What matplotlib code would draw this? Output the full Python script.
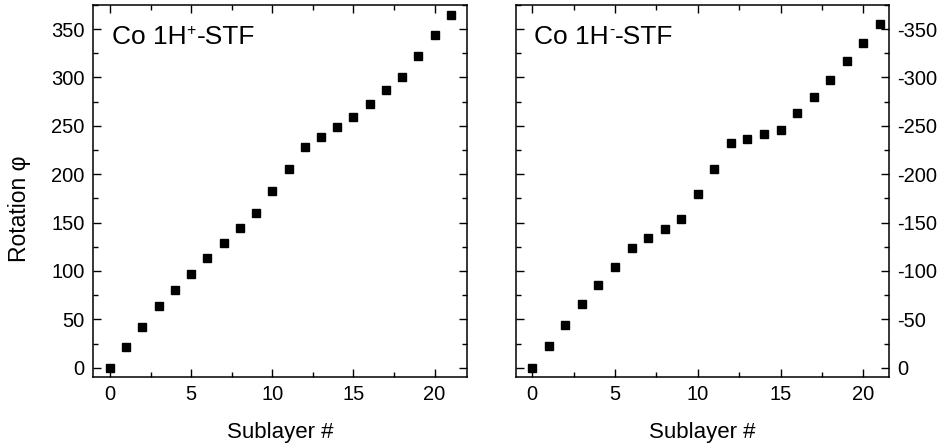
import matplotlib
matplotlib.use("Agg")
import matplotlib.pyplot as plt
from matplotlib.ticker import MultipleLocator, FuncFormatter

plt.rcParams['font.family'] = ['Liberation Sans', 'DejaVu Sans']
plt.rcParams['axes.unicode_minus'] = False

sublayer = list(range(22))
rot_plus = [0, 21, 42.4, 63.7, 80.3, 97.1, 113.7, 129.2, 144.7, 160.2, 182.9,
            205, 228, 238.4, 248.7, 259, 272.8, 286.6, 300.7, 322, 343.8, 365]
rot_minus = [0, -22.3, -44, -66, -85.2, -104.1, -123.4, -133.7, -143.3, -153.7, -179.8,
             -205.9, -232, -236.9, -241.3, -246.1, -263, -280.2, -297, -316.6, -335.8, -355.8]
yticks_plus = [0, 50, 100, 150, 200, 250, 300, 350]
yticks_minus = [0, -50, -100, -150, -200, -250, -300, -350]
xticks = [0, 5, 10, 15, 20]

fig = plt.figure(figsize=(9.41, 4.47), dpi=100)
ax1 = fig.add_axes([0.0988, 0.1566, 0.3975, 0.833])
ax2 = fig.add_axes([0.548, 0.1566, 0.3967, 0.833])


def style(ax):
    for s in ax.spines.values():
        s.set_linewidth(1.1)
    ax.set_xticks(xticks)
    ax.xaxis.set_minor_locator(MultipleLocator(2.5))
    ax.yaxis.set_minor_locator(MultipleLocator(25))
    ax.tick_params(which='both', direction='in', top=True, right=True,
                   width=1.0, labelsize=14.5, pad=6)
    ax.tick_params(which='major', length=5.5)
    ax.tick_params(which='minor', length=3.5)
    ax.set_xlabel('Sublayer #', fontsize=16, labelpad=13)


def panel_title(ax, sup):
    # "Co 1H" + superscript sign + "-STF", laid out piece by piece
    base = ax.text(0.05, 0.945, 'Co 1H', transform=ax.transAxes,
                   fontsize=19, va='top', ha='left')
    s = ax.annotate(sup, xy=(1, 1), xycoords=base, xytext=(0.3, 1.5),
                    textcoords='offset points', fontsize=11.5,
                    va='top', ha='left')
    ax.annotate('-STF', xy=(1, 0), xycoords=(s, base), xytext=(0.3, 0),
                textcoords='offset points', fontsize=19,
                va='bottom', ha='left')


# left panel: positive rotation
ax1.plot(sublayer, rot_plus, 's', color='black', markersize=6.2, linestyle='none')
ax1.set_xlim(-1.05, 22)
ax1.set_ylim(-9.6, 375.3)
style(ax1)
ax1.set_yticks(yticks_plus)
ax1.yaxis.set_minor_locator(MultipleLocator(25))
ax1.set_ylabel('Rotation φ', fontsize=16.5)
ax1.yaxis.set_label_coords(-0.165, 0.452)
panel_title(ax1, '+')

# right panel: negative rotation, axis runs downward from 0
ax2.plot(sublayer, rot_minus, 's', color='black', markersize=6.2, linestyle='none')
ax2.set_xlim(-1.0, 21.55)
ax2.set_ylim(9.6, -375.3)
style(ax2)
ax2.set_yticks(yticks_minus)
ax2.yaxis.set_minor_locator(MultipleLocator(25))
ax2.yaxis.set_major_formatter(FuncFormatter(lambda v, p: '%d' % v))
ax2.tick_params(axis='y', labelleft=False, labelright=True)
panel_title(ax2, '-')

fig.savefig('out.png', dpi=100)
